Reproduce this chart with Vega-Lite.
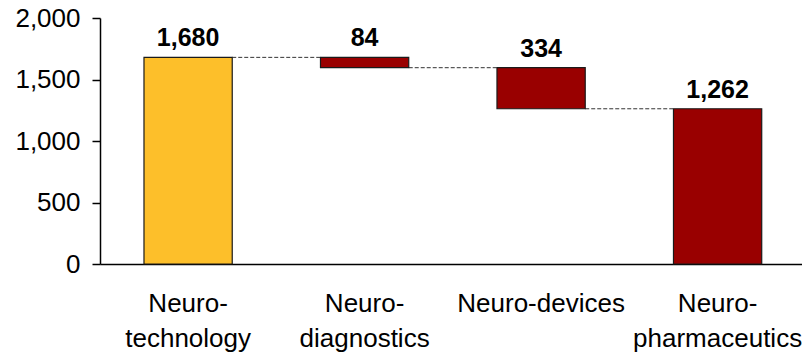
{
  "$schema": "https://vega.github.io/schema/vega-lite/v6.json",
  "width": 702,
  "height": 246,
  "autosize": {"type": "none"},
  "padding": {"left": 100, "top": 18, "right": 0, "bottom": 88},
  "background": "white",
  "config": {
    "view": {"stroke": null},
    "font": "Liberation Sans"
  },
  "datasets": {
    "steps": [
      {"cat": "Neurotechnology", "lo": 0, "hi": 1680, "value": 1680, "kind": "total"},
      {"cat": "Neurodiagnostics", "lo": 1596, "hi": 1680, "value": 84, "kind": "decrease"},
      {"cat": "Neuro-devices", "lo": 1262, "hi": 1596, "value": 334, "kind": "decrease"},
      {"cat": "Neuropharmaceutics", "lo": 0, "hi": 1262, "value": 1262, "kind": "result"}
    ],
    "links": [
      {"from": "Neurotechnology", "to": "Neurodiagnostics", "level": 1680},
      {"from": "Neurodiagnostics", "to": "Neuro-devices", "level": 1596},
      {"from": "Neuro-devices", "to": "Neuropharmaceutics", "level": 1262}
    ]
  },
  "layer": [
    {
      "data": {"name": "links"},
      "mark": {"type": "rule", "stroke": "#333333", "strokeWidth": 1, "strokeDash": [4, 2]},
      "encoding": {
        "x": {"field": "from", "type": "nominal", "bandPosition": 1},
        "x2": {"field": "to", "bandPosition": 0},
        "y": {"field": "level", "type": "quantitative"}
      }
    },
    {
      "data": {"name": "steps"},
      "mark": {"type": "bar", "stroke": "#1a1a1a", "strokeWidth": 1.2, "cornerRadius": 0},
      "encoding": {
        "x": {
          "field": "cat",
          "type": "nominal",
          "sort": null,
          "scale": {
            "domain": ["Neurotechnology", "Neurodiagnostics", "Neuro-devices", "Neuropharmaceutics"],
            "paddingInner": 0.5,
            "paddingOuter": 0.2387,
            "align": 0.522
          },
          "axis": {
            "title": null,
            "labelAngle": 0,
            "labelAlign": "center",
            "ticks": false,
            "domainColor": "#000000",
            "domainWidth": 1.5,
            "labelFont": "Liberation Sans",
            "labelFontSize": 26,
            "labelColor": "#000000",
            "labelPadding": 26,
            "labelLineHeight": 35,
            "labelBaseline": "top",
            "labelExpr": "indexof(datum.value, '-') < 0 ? ['Neuro-', substring(datum.value, 5)] : datum.value"
          }
        },
        "y": {
          "field": "lo",
          "type": "quantitative",
          "scale": {"domain": [0, 2000], "nice": false},
          "axis": {
            "title": null,
            "values": [0, 500, 1000, 1500, 2000],
            "format": ",.0f",
            "grid": false,
            "tickSize": 8,
            "tickColor": "#000000",
            "tickWidth": 1.5,
            "domainColor": "#000000",
            "domainWidth": 1.5,
            "labelFont": "Liberation Sans",
            "labelFontSize": 26,
            "labelColor": "#000000",
            "labelPadding": 12
          }
        },
        "y2": {"field": "hi"},
        "color": {
          "field": "kind",
          "type": "nominal",
          "scale": {"domain": ["total", "decrease", "result"], "range": ["#FDBF2A", "#990000", "#990000"]},
          "legend": null
        }
      }
    },
    {
      "data": {"name": "steps"},
      "mark": {"type": "text", "font": "Liberation Sans", "fontSize": 25, "fontWeight": "bold", "color": "#000000", "baseline": "alphabetic", "dy": -11},
      "encoding": {
        "x": {"field": "cat", "type": "nominal"},
        "y": {"field": "hi", "type": "quantitative"},
        "text": {"field": "value", "type": "quantitative", "format": ",.0f"}
      }
    }
  ]
}
